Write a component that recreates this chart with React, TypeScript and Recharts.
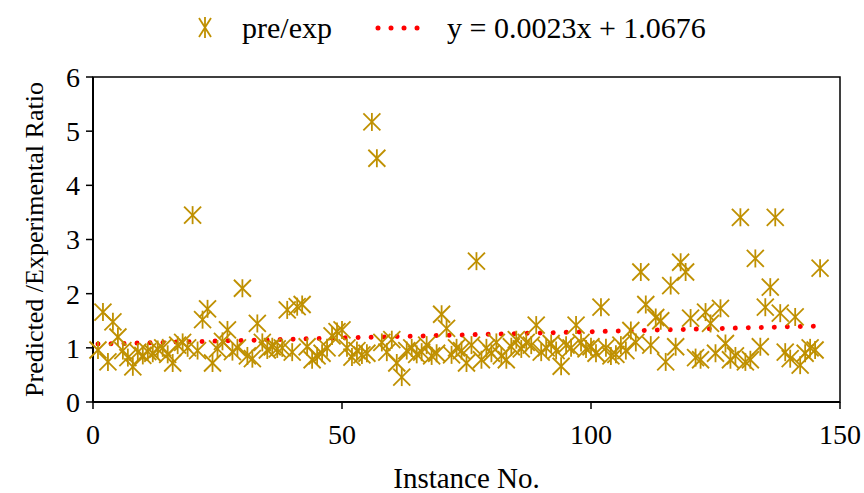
import { ComposedChart, Scatter, Line, XAxis, YAxis, Legend, ReferenceArea, Label } from 'recharts';

// pre/exp ratio for each instance (instance 1..146)
const ratios = [
  0.96, 1.66, 0.74, 1.48, 1.2, 0.95, 0.82, 0.65, 0.92, 0.86,
  0.93, 0.9, 0.97, 1.0, 0.88, 0.72, 1.05, 1.1, 1.0, 3.45,
  0.95, 1.52, 1.72, 0.72, 0.98, 1.12, 1.33, 0.93, 1.0, 2.1,
  0.85, 0.8, 1.45, 1.1, 0.96, 1.02, 0.98, 1.0, 1.7, 0.92,
  1.76, 1.8, 1.02, 0.78, 0.85, 0.9, 1.0, 1.22, 1.3, 1.33,
  1.0, 0.83, 0.95, 0.87, 0.9, 5.17, 4.5, 1.1, 0.92, 1.15,
  0.72, 0.46, 0.95, 1.0, 0.88, 0.92, 1.05, 0.85, 0.9, 1.62,
  1.36, 0.87, 1.0, 0.95, 0.72, 1.05, 2.6, 0.78, 1.0, 0.9,
  1.1, 0.85, 0.78, 1.02, 1.15, 0.98, 1.1, 1.05, 1.42, 0.92,
  1.0, 1.08, 0.95, 0.66, 1.05, 1.0, 1.42, 1.1, 0.98, 1.02,
  0.9, 1.75, 1.0, 0.85, 0.88, 1.05, 0.95, 1.32, 1.1, 2.4,
  1.8, 1.05, 1.56, 1.5, 0.74, 2.15, 1.02, 2.58, 2.4, 1.55,
  0.82, 0.78, 1.66, 1.45, 0.9, 1.73, 1.08, 0.78, 0.85, 3.41,
  0.74, 0.78, 2.65, 1.02, 1.75, 2.12, 3.41, 1.64, 0.92, 0.8,
  1.57, 0.68, 0.9, 1.0, 0.96, 2.47,
];

// trend line end points (y = 0.0023x + 1.0676)
const trendX = [1, 145];
const trendY = [1.07, 1.401];

const xTicks = [0, 50, 100, 150];
const yTicks = [0, 1, 2, 3, 4, 5, 6];

const GOLD = '#BF9000';
const FONT = '"Liberation Serif", "Times New Roman", serif';

const points = ratios.map((r, i) => ({ x: i + 1, y: r }));
const trend = trendX.map((x, i) => ({ x, t: trendY[i] }));

function Star(props: any) {
  const { cx, cy } = props;
  if (cx == null || cy == null) return null;
  const h = 9;
  const d = 8.5;
  return (
    <g stroke={GOLD} strokeWidth={1.8} fill="none">
      <line x1={cx} y1={cy - h} x2={cx} y2={cy + h} />
      <line x1={cx - d} y1={cy - d} x2={cx + d} y2={cy + d} />
      <line x1={cx - d} y1={cy + d} x2={cx + d} y2={cy - d} />
    </g>
  );
}

function LegendBox() {
  return (
    <svg width={864} height={50} style={{ display: 'block' }}>
      <g stroke={GOLD} strokeWidth={1.8}>
        <line x1={205} y1={17} x2={205} y2={38} />
        <line x1={199} y1={18} x2={211} y2={37} />
        <line x1={199} y1={37} x2={211} y2={18} />
      </g>
      <text x={242} y={38} fontFamily={FONT} fontSize={30} fill="#000">pre/exp</text>
      <line x1={378} y1={28} x2={430} y2={28} stroke="red" strokeWidth={5}
        strokeLinecap="round" strokeDasharray="0.01 13" />
      <text x={447} y={38} fontFamily={FONT} fontSize={30} fill="#000">y = 0.0023x + 1.0676</text>
    </svg>
  );
}

export default function App() {
  return (
    <div style={{ position: 'absolute', left: 0, top: 0 }}>
      <ComposedChart width={864} height={493} margin={{ top: 77, right: 24, left: 33, bottom: 41 }}>
        <XAxis dataKey="x" type="number" domain={[0, 150]} ticks={xTicks}
          allowDuplicatedCategory={false} height={50}
          axisLine={{ stroke: '#000', strokeWidth: 2 }} tickLine={{ stroke: '#000', strokeWidth: 1.5 }}
          tickSize={7} tickMargin={15}
          tick={{ fill: '#000', fontSize: 28, fontFamily: FONT }}>
          <Label value="Instance No." position="insideBottom" offset={-36}
            style={{ fill: '#000', fontSize: 29, fontFamily: FONT }} />
        </XAxis>
        <YAxis type="number" domain={[0, 6]} ticks={yTicks} width={60}
          axisLine={{ stroke: '#000', strokeWidth: 2 }} tickLine={{ stroke: '#000', strokeWidth: 1.5 }}
          tickSize={7} tickMargin={6}
          tick={{ fill: '#000', fontSize: 28, fontFamily: FONT }}>
          <Label value="Predicted /Experimental Ratio" angle={-90} position="insideLeft"
            offset={1} style={{ fill: '#000', fontSize: 26, fontFamily: FONT, textAnchor: 'middle' }} />
        </YAxis>
        <ReferenceArea x1={0} x2={150} y1={0} y2={6} fill="none" stroke="#000" strokeWidth={1.5} ifOverflow="visible" />
        <Scatter data={points} dataKey="y" shape={<Star />} isAnimationActive={false} />
        <Line data={trend} dataKey="t" type="linear" stroke="red" strokeWidth={5}
          strokeLinecap="round" strokeDasharray="0.01 13" dot={false} activeDot={false}
          isAnimationActive={false} legendType="none" />
        <Legend verticalAlign="middle" align="center" content={() => <LegendBox />}
          wrapperStyle={{ top: 0, left: 0, width: 864 }} />
      </ComposedChart>
    </div>
  );
}
